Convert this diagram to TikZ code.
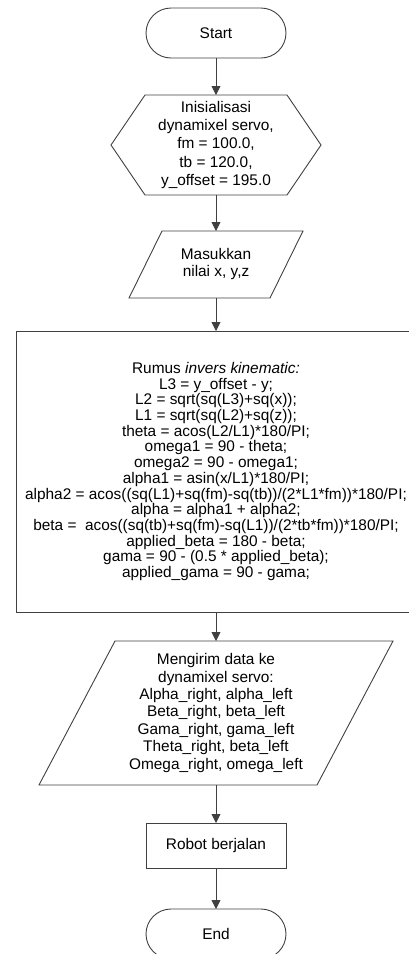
\documentclass[tikz,border=0pt]{standalone}
\usepackage{fontspec}
\setmainfont{Liberation Sans}
\usetikzlibrary{arrows.meta,calc}
\begin{document}
\begin{tikzpicture}[x=1pt,y=-1pt,
  every node/.style={inner sep=0pt, outer sep=0pt, align=center, text=black},
  lines/.style={draw=black!75, line width=0.9pt},
  txt/.style={font=\fontsize{15.4pt}{#1}\selectfont},
  term/.style={lines, rounded corners=25pt, minimum width=140pt, minimum height=50pt, txt=18pt},
  arrow/.style={lines, -{Triangle[width=9pt,length=9pt]}}
]
\useasboundingbox (0,0) rectangle (409,954);
\clip (0,0) rectangle (409,954);

% nodes
\node[term] (start) at (216,33) {Start};
\node[minimum width=210pt, minimum height=100pt, txt=18.3pt] (init) at (216,145)
  {Inisialisasi\\dynamixel servo,\\fm = 100.0,\\tb = 120.0,\\y\_offset = 195.0};
\node[minimum width=174pt, minimum height=67pt, txt=17pt] (input) at (216,264.5)
  {Masukkan\\nilai x, y,z};
\node[lines, minimum width=400pt, minimum height=281pt, txt=15.7pt] (calc) at (216,471.5)
  {Rumus \textit{invers kinematic:}\\
   L3 = y\_offset - y;\\
   L2 = sqrt(sq(L3)+sq(x));\\
   L1 = sqrt(sq(L2)+sq(z));\\
   theta = acos(L2/L1)*180/PI;\\
   omega1 = 90 - theta;\\
   omega2 = 90 - omega1;\\
   alpha1 = asin(x/L1)*180/PI;\\
   alpha2 = acos((sq(L1)+sq(fm)-sq(tb))/(2*L1*fm))*180/PI;\\
   alpha = alpha1 + alpha2;\\
   beta = \ acos((sq(tb)+sq(fm)-sq(L1))/(2*tb*fm))*180/PI;\\
   applied\_beta = 180 - beta;\\
   gama = 90 - (0.5 * applied\_beta);\\
   applied\_gama = 90 - gama;};
\node[minimum width=354pt, minimum height=144pt, txt=17.4pt] (output) at (216,713)
  {Mengirim data ke\\dynamixel servo:\\Alpha\_right, alpha\_left\\Beta\_right, beta\_left\\Gama\_right, gama\_left\\Theta\_right, beta\_left\\Omega\_right, omega\_left};
\node[lines, minimum width=140pt, minimum height=45pt, txt=18pt] (robot) at (216,845.5) {Robot berjalan};
\node[term] (end) at (216,934) {End};

% outlines
\draw[lines] (init.west) -- ($(init.north west)+(34,0)$) -- ($(init.north east)+(-34,0)$)
  -- (init.east) -- ($(init.south east)+(-34,0)$) -- ($(init.south west)+(34,0)$) -- cycle;
\draw[lines] (input.south west) -- ($(input.north west)+(33,0)$) -- (input.north east)
  -- ($(input.south east)+(-33,0)$) -- cycle;
\draw[lines] (output.south west) -- ($(output.north west)+(76,0)$) -- (output.north east)
  -- ($(output.south east)+(-76,0)$) -- cycle;

% connectors
\draw[arrow] (start.south) -- (init.north);
\draw[arrow] (init.south) -- (input.north);
\draw[arrow] (input.south) -- (calc.north);
\draw[arrow] (calc.south) -- (output.north);
\draw[arrow] (output.south) -- (robot.north);
\draw[arrow] (robot.south) -- (end.north);
\end{tikzpicture}
\end{document}
